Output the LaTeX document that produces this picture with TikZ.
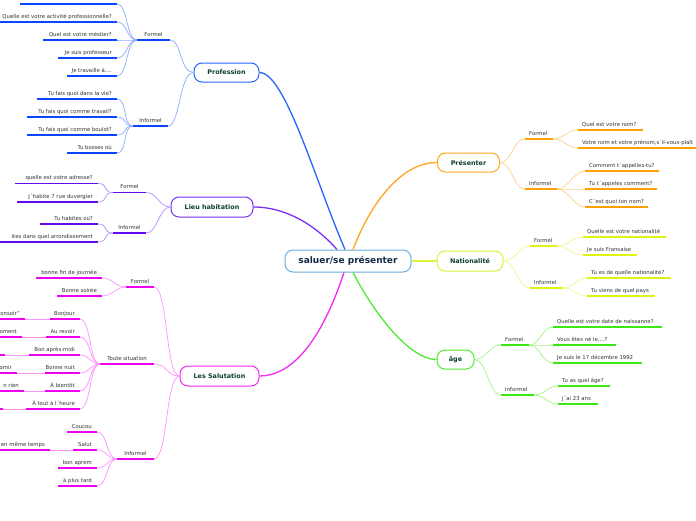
\documentclass[tikz,border=0pt]{standalone}
\usepackage{fontspec}
\setmainfont{DejaVu Sans}
\definecolor{leafgray}{RGB}{50,50,50}
\definecolor{nodetext}{RGB}{12,62,48}
\definecolor{centtext}{RGB}{22,40,72}
\definecolor{centbord}{RGB}{110,175,222}
\definecolor{profD}{RGB}{10,70,255}
\definecolor{profM}{RGB}{40,100,255}
\definecolor{profL}{RGB}{140,170,255}
\definecolor{lieuD}{RGB}{100,10,240}
\definecolor{lieuM}{RGB}{120,50,245}
\definecolor{lieuL}{RGB}{175,145,255}
\definecolor{salD}{RGB}{240,0,240}
\definecolor{salM}{RGB}{245,40,245}
\definecolor{salL}{RGB}{255,145,255}
\definecolor{preD}{RGB}{255,160,0}
\definecolor{preM}{RGB}{255,165,30}
\definecolor{preL}{RGB}{255,208,140}
\definecolor{natD}{RGB}{222,242,20}
\definecolor{natM}{RGB}{225,242,60}
\definecolor{natL}{RGB}{236,248,150}
\definecolor{ageD}{RGB}{60,232,20}
\definecolor{ageM}{RGB}{80,235,50}
\definecolor{ageL}{RGB}{160,245,130}
% leaf on the left: name, colour, xl, xr, y, text
\newcommand{\LL}[6]{%
  \coordinate (#1L) at (#3,#5); \coordinate (#1R) at (#4,#5);
  \draw[ul,#2] (#1L) -- (#1R);
  \node[leaf,anchor=base east] (#1) at (#4-5,#5-4) {#6};}
% leaf on the right
\newcommand{\RL}[6]{%
  \coordinate (#1L) at (#3,#5); \coordinate (#1R) at (#4,#5);
  \draw[ul,#2] (#1L) -- (#1R);
  \node[leaf,anchor=base west] (#1) at (#3+4,#5-4) {#6};}
% sub label centred
\newcommand{\SC}[6]{%
  \coordinate (#1L) at (#3,#5); \coordinate (#1R) at (#4,#5);
  \draw[ul,#2] (#1L) -- (#1R);
  \node[leaf,anchor=base] (#1) at ({(#3+#4)/2},#5-4) {#6};}
\newcommand{\cvL}[3]{\draw[cv,#1] (#2) .. controls +(-11,0) and +(11,0) .. (#3);}
\newcommand{\cvR}[3]{\draw[cv,#1] (#2) .. controls +(11,0) and +(-11,0) .. (#3);}
\begin{document}
\begin{tikzpicture}[x=1pt,y=-1pt,
  leaf/.style={font=\fontsize{5.35}{6}\selectfont, text=leafgray, inner sep=0pt},
  branch/.style={draw, rounded corners=8pt, fill=white, line width=1pt,
     font=\bfseries\fontsize{6.4}{7}\selectfont, text=nodetext, inner sep=0pt},
  ul/.style={line width=1.5pt},
  cv/.style={line width=0.7pt},
  mainc/.style={line width=1.3pt}]
\useasboundingbox (0,0) rectangle (696,520);
\fill[white] (0,0) rectangle (696,520);
\clip (0,0) rectangle (696,520);

% ---------- central node ----------
\node[draw=centbord, line width=1pt, rounded corners=8pt, fill=white,
      minimum width=126pt, minimum height=22pt, inner sep=0pt,
      font=\bfseries\fontsize{9}{10}\selectfont, text=centtext] (c) at (348,261) {saluer/se présenter};

% ---------- branch nodes ----------
\node[branch, draw=profM, minimum width=65pt, minimum height=19pt] (prof) at (226.5,72.5) {Profession};
\node[branch, draw=lieuM, minimum width=82pt, minimum height=20pt] (lieu) at (212,207) {Lieu habitation};
\node[branch, draw=salM, minimum width=79pt, minimum height=20pt] (sal) at (219.5,376) {Les Salutation};
\node[branch, draw=preM, minimum width=62pt, minimum height=19pt] (pre) at (468.5,162.5) {Présenter};
\node[branch, draw=natM, minimum width=66pt, minimum height=20pt] (nat) at (470,261) {Nationalité};
\node[branch, draw=ageM, minimum width=37pt, minimum height=19pt] (age) at (455.5,359.5) {âge};

% ---------- main connectors ----------
\draw[mainc,profM] ([xshift=-3pt]c.north) .. controls (315,180) and (285,72.5) .. (prof.east);
\draw[mainc,lieuM] ([xshift=-11pt]c.north) .. controls (320,230) and (290,207) .. (lieu.east);
\draw[mainc,salM] ([xshift=-4pt]c.south) .. controls (320,345) and (290,376) .. (sal.east);
\draw[mainc,preM] ([xshift=5pt]c.north) .. controls (370,205) and (400,162.5) .. (pre.west);
\draw[mainc,natM] (c.east) -- (nat.west);
\draw[mainc,ageM] ([xshift=5pt]c.south) .. controls (375,315) and (410,359.5) .. (age.west);

% ---------- Profession ----------
\SC{pF}{profD}{137}{170}{40}{Formel}
\SC{pI}{profD}{133}{168}{126}{Informel}
\draw[cv,profL] (prof.west) .. controls +(-14,0) and +(12,0) .. (pFR);
\draw[cv,profL] (prof.west) .. controls +(-14,0) and +(12,0) .. (pIR);
\coordinate (p0L) at (20,4); \coordinate (p0R) at (117,4);
\draw[ul,profD] (p0L) -- (p0R);
\LL{p1}{profD}{0}{117}{22}{Quelle est votre activité professionnelle?}
\LL{p2}{profD}{43}{117}{40}{Quel est votre méstier?}
\LL{p3}{profD}{58}{117}{58}{Je suis professeur}
\LL{p4}{profD}{67}{117}{76}{Je travaille á....}
\LL{p5}{profD}{37}{117}{99}{Tu fais quoi dans la vie?}
\LL{p6}{profD}{27}{117}{117}{Tu fais quoi comme travail?}
\LL{p7}{profD}{27}{117}{135}{Tu fais quoi comme boulot?}
\LL{p8}{profD}{67}{117}{153}{Tu bosses où}
\foreach \k in {p0,p1,p2,p3,p4}{\cvL{profL}{pFL}{\k R}}
\foreach \k in {p5,p6,p7,p8}{\cvL{profL}{pIL}{\k R}}

% ---------- Lieu habitation ----------
\SC{lF}{lieuD}{113}{146}{192.5}{Formel}
\SC{lI}{lieuD}{113}{146}{233}{Informel}
\draw[cv,lieuL] (lieu.west) .. controls +(-12,0) and +(12,0) .. (lFR);
\draw[cv,lieuL] (lieu.west) .. controls +(-12,0) and +(12,0) .. (lIR);
\LL{l1}{lieuD}{15}{98}{183.5}{quelle est votre adresse?}
\LL{l2}{lieuD}{17}{98}{202}{J´habite 7 rue duvergier}
\LL{l3}{lieuD}{40}{98}{224}{Tu habites où?}
\LL{l4}{lieuD}{0}{98}{242}{ites dans quel arrondissement}
\foreach \k in {l1,l2}{\cvL{lieuL}{lFL}{\k R}}
\foreach \k in {l3,l4}{\cvL{lieuL}{lIL}{\k R}}

% ---------- Les Salutation ----------
\SC{sF}{salD}{126}{154}{287}{Formel}
\SC{sT}{salD}{100}{154}{364}{Toute situation}
\SC{sI}{salD}{117}{154}{459}{Informel}
\draw[cv,salL] (sal.west) .. controls +(-14,0) and +(14,0) .. (sFR);
\draw[cv,salL] (sal.west) .. controls +(-14,0) and +(14,0) .. (sTR);
\draw[cv,salL] (sal.west) .. controls +(-14,0) and +(14,0) .. (sIR);
\LL{s1}{salD}{36}{102}{278}{bonne fin de journée}
\LL{s2}{salD}{57}{102}{296}{Bonne soirée}
\LL{s3}{salD}{50}{80}{319}{Bonjour}
\LL{s4}{salD}{46}{80}{337}{Au revoir}
\LL{s5}{salD}{29}{80}{355}{Bon après-midi}
\LL{s6}{salD}{45}{80}{373}{Bonne nuit}
\LL{s7}{salD}{45}{80}{391}{À bientôt}
\LL{s8}{salD}{26}{80}{409}{À tout à l´heure}
\LL{s9}{salD}{67}{97}{432}{Coucou}
\LL{s10}{salD}{73}{97}{450}{Salut}
\LL{s11}{salD}{58}{97}{468}{bon aprem}
\LL{s12}{salD}{58}{97}{486}{à plus tard}
\foreach \k in {s1,s2}{\cvL{salL}{sFL}{\k R}}
\foreach \k in {s3,s4,s5,s6,s7,s8}{\cvL{salL}{sTL}{\k R}}
\foreach \k in {s9,s10,s11,s12}{\cvL{salL}{sIL}{\k R}}
% children cut by the left edge
\LL{c3}{salD}{-10}{25}{319}{onsoir"}
\LL{c4}{salD}{-10}{22}{337}{oment}
\coordinate (c5L) at (-10,355); \coordinate (c5R) at (5,355); \draw[ul,salD] (c5L) -- (c5R);
\LL{c6}{salD}{-10}{17}{373}{omir}
\LL{c7}{salD}{-10}{24}{391}{n rien}
\coordinate (c8L) at (-10,409); \coordinate (c8R) at (3,409); \draw[ul,salD] (c8L) -- (c8R);
\LL{c10}{salD}{-10}{50}{450}{en même temps}
\foreach \k in {3,4,5,6,7,8,10}{\draw[cv,salL] (s\k L) -- (c\k R);}

% ---------- Présenter ----------
\RL{rF}{preD}{525}{553}{139}{Formel}
\RL{rI}{preD}{525}{557}{189}{Informel}
\draw[cv,preL] (pre.east) .. controls +(12,0) and +(-12,0) .. (rFL);
\draw[cv,preL] (pre.east) .. controls +(12,0) and +(-12,0) .. (rIL);
\RL{r1}{preD}{578}{643}{130}{Quel est votre nom?}
\RL{r2}{preD}{578}{710}{148}{Votre nom et votre prénom,s´il-vous-plaît}
\RL{r3}{preD}{585}{659}{171}{Comment t´appelles-tu?}
\RL{r4}{preD}{585}{657}{189}{Tu t´appeles comment?}
\RL{r5}{preD}{585}{648}{207}{C´est quoi ton nom?}
\foreach \k in {r1,r2}{\cvR{preL}{rFR}{\k L}}
\foreach \k in {r3,r4,r5}{\cvR{preL}{rIR}{\k L}}

% ---------- Nationalité ----------
\RL{nF}{natD}{530}{557}{246}{Formel}
\RL{nI}{natD}{530}{563}{288}{Informel}
\draw[cv,natL] (nat.east) .. controls +(12,0) and +(-12,0) .. (nFL);
\draw[cv,natL] (nat.east) .. controls +(12,0) and +(-12,0) .. (nIL);
\RL{n1}{natD}{583}{666}{237}{Quelle est votre nationalité}
\RL{n2}{natD}{583}{637}{255}{Je suis Fransaise}
\RL{n3}{natD}{587}{671}{278}{Tu es de quelle nationalité?}
\RL{n4}{natD}{587}{655}{296}{Tu viens de quel pays}
\foreach \k in {n1,n2}{\cvR{natL}{nFR}{\k L}}
\foreach \k in {n3,n4}{\cvR{natL}{nIR}{\k L}}

% ---------- âge ----------
\RL{aF}{ageD}{501}{529}{345}{Formel}
\RL{aI}{ageD}{501}{534}{395}{Informel}
\draw[cv,ageL] (age.east) .. controls +(12,0) and +(-12,0) .. (aFL);
\draw[cv,ageL] (age.east) .. controls +(12,0) and +(-12,0) .. (aIL);
\RL{a1}{ageD}{553}{662}{327}{Quelle est votre date de naissanne?}
\RL{a2}{ageD}{553}{616}{345}{Vous êtes né le....?}
\RL{a3}{ageD}{553}{642}{363}{Je suis le 17 décembre 1992}
\RL{a4}{ageD}{558}{610}{386}{Tu as quel âge?}
\RL{a5}{ageD}{558}{598}{404}{J´ai 23 ans}
\foreach \k in {a1,a2,a3}{\cvR{ageL}{aFR}{\k L}}
\foreach \k in {a4,a5}{\cvR{ageL}{aIR}{\k L}}
\end{tikzpicture}
\end{document}
